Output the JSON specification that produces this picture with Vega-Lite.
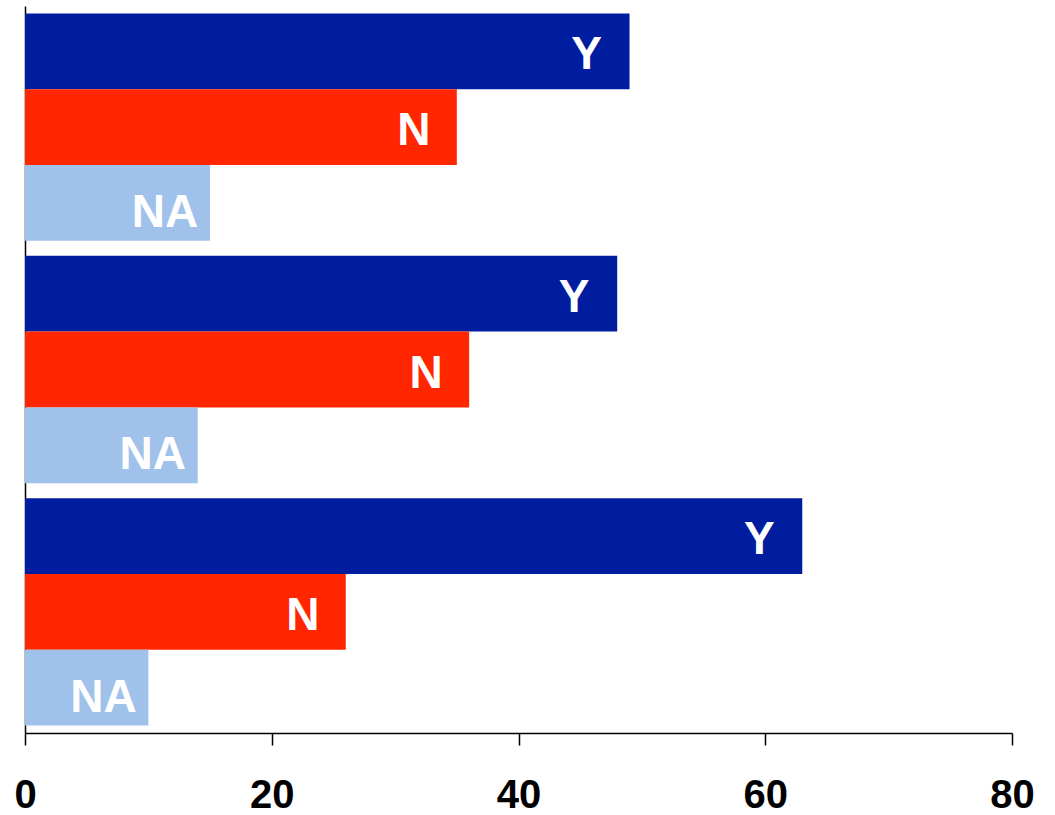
{
  "$schema": "https://vega.github.io/schema/vega-lite/v6.json",
  "width": 987,
  "height": 727,
  "autosize": {"type": "none"},
  "padding": {"left": 25, "top": 6, "right": 43, "bottom": 82},
  "background": "white",
  "config": {"view": {"stroke": null}},
  "data": {"values": [
    {"group": "1", "answer": "Y", "value": 49},
    {"group": "1", "answer": "N", "value": 35},
    {"group": "1", "answer": "NA", "value": 15},
    {"group": "2", "answer": "Y", "value": 48},
    {"group": "2", "answer": "N", "value": 36},
    {"group": "2", "answer": "NA", "value": 14},
    {"group": "3", "answer": "Y", "value": 63},
    {"group": "3", "answer": "N", "value": 26},
    {"group": "3", "answer": "NA", "value": 10}
  ]},
  "encoding": {
    "y": {"field": "group", "type": "nominal", "sort": ["1", "2", "3"],
      "scale": {"paddingInner": 0.062, "paddingOuter": 0.031},
      "axis": {"title": null, "labels": false, "ticks": false, "domain": true, "domainColor": "black", "domainWidth": 1.5, "grid": false}},
    "yOffset": {"field": "answer", "type": "nominal", "sort": ["Y", "N", "NA"],
      "scale": {"paddingInner": 0, "paddingOuter": 0}},
    "x": {"field": "value", "type": "quantitative",
      "scale": {"domain": [0, 80], "nice": false},
      "axis": {"title": null, "values": [0, 20, 40, 60, 80], "grid": false,
        "domainColor": "black", "domainWidth": 1.5, "tickColor": "black", "tickWidth": 1.5, "tickSize": 12,
        "labelFont": "Liberation Sans", "labelFontSize": 40, "labelFontWeight": "bold", "labelColor": "black",
        "labelPadding": 30, "labelFlush": false, "labelOverlap": false}}
  },
  "layer": [
    {
      "mark": {"type": "bar", "strokeWidth": 0},
      "encoding": {
        "color": {"field": "answer", "type": "nominal",
          "scale": {"domain": ["Y", "N", "NA"], "range": ["#001C9F", "#FF2600", "#A0C2EA"]},
          "legend": null}
      }
    },
    {
      "transform": [{"filter": "datum.answer !== 'NA'"}],
      "mark": {"type": "text", "color": "white", "font": "Liberation Sans", "fontSize": 46, "fontWeight": "bold", "align": "center", "baseline": "middle", "dx": -43, "dy": 4},
      "encoding": {"text": {"field": "answer"}}
    },
    {
      "transform": [{"filter": "datum.answer === 'NA'"}],
      "mark": {"type": "text", "color": "white", "font": "Liberation Sans", "fontSize": 46, "fontWeight": "bold", "align": "center", "baseline": "middle", "dx": -45, "dy": 10},
      "encoding": {"text": {"field": "answer"}}
    }
  ]
}
